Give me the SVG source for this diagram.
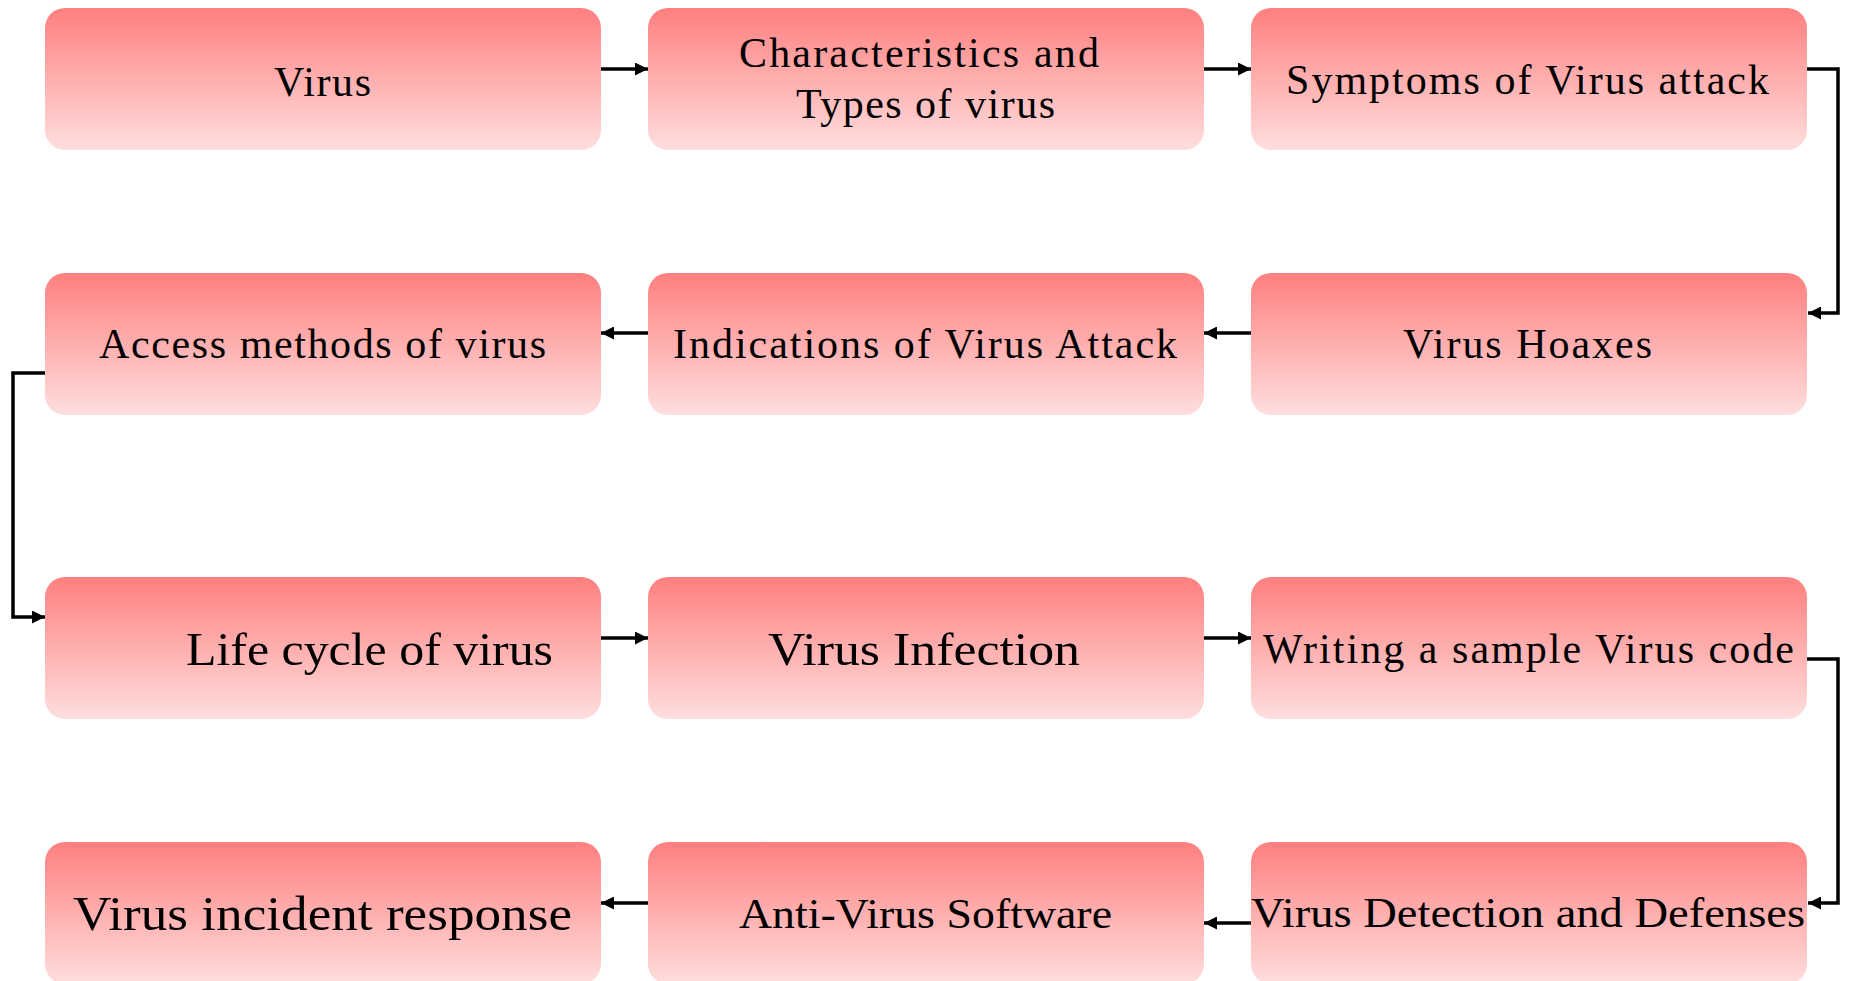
<svg xmlns="http://www.w3.org/2000/svg" width="1849" height="981" viewBox="0 0 1849 981">
<defs>
<linearGradient id="g" x1="0" y1="0" x2="0" y2="1">
<stop offset="0" stop-color="#FF7F7F"/>
<stop offset="1" stop-color="#FFDEDE"/>
</linearGradient>
<marker id="ah" viewBox="0 0 12 12" refX="12" refY="6" markerWidth="13" markerHeight="13" markerUnits="userSpaceOnUse" orient="auto">
<path d="M0,0 L12,6 L0,12 Z" fill="#000"/>
</marker>
<style>
.box{fill:url(#g);}
.t{font-family:"Liberation Serif","Times New Roman",serif;fill:#000;text-anchor:start;}
.c{fill:none;stroke:#000;stroke-width:3.5;marker-end:url(#ah);}
</style>
</defs>
<rect width="1849" height="981" fill="#fff"/>
<g id="n1"><rect class="box" x="45" y="8" width="556" height="142" rx="20"/><text class="t" x="274" y="96" font-size="42" textLength="97" lengthAdjust="spacing">Virus</text></g>
<g id="n2"><rect class="box" x="648" y="8" width="556" height="142" rx="20"/><text class="t" x="739" y="67" font-size="42" textLength="360" lengthAdjust="spacing">Characteristics and</text><text class="t" x="796" y="118" font-size="42" textLength="259" lengthAdjust="spacing">Types of virus</text></g>
<g id="n3"><rect class="box" x="1251" y="8" width="556" height="142" rx="20"/><text class="t" x="1286" y="94" font-size="42" textLength="483" lengthAdjust="spacing">Symptoms of Virus attack</text></g>
<g id="n4"><rect class="box" x="1251" y="273" width="556" height="142" rx="20"/><text class="t" x="1403" y="358" font-size="42" textLength="249" lengthAdjust="spacing">Virus Hoaxes</text></g>
<g id="n5"><rect class="box" x="648" y="273" width="556" height="142" rx="20"/><text class="t" x="673" y="358" font-size="42" textLength="504" lengthAdjust="spacing">Indications of Virus Attack</text></g>
<g id="n6"><rect class="box" x="45" y="273" width="556" height="142" rx="20"/><text class="t" x="99" y="358" font-size="42" textLength="447" lengthAdjust="spacing">Access methods of virus</text></g>
<g id="n7"><rect class="box" x="45" y="577" width="556" height="142" rx="20"/><text class="t" x="186" y="665" font-size="47" textLength="367" lengthAdjust="spacingAndGlyphs">Life cycle of virus</text></g>
<g id="n8"><rect class="box" x="648" y="577" width="556" height="142" rx="20"/><text class="t" x="768" y="665" font-size="47" textLength="312" lengthAdjust="spacingAndGlyphs">Virus Infection</text></g>
<g id="n9"><rect class="box" x="1251" y="577" width="556" height="142" rx="20"/><text class="t" x="1263" y="663" font-size="42" textLength="531" lengthAdjust="spacing">Writing a sample Virus code</text></g>
<g id="n10"><rect class="box" x="1251" y="842" width="556" height="142" rx="20"/><text class="t" x="1251" y="927" font-size="43" textLength="554" lengthAdjust="spacingAndGlyphs">Virus Detection and Defenses</text></g>
<g id="n11"><rect class="box" x="648" y="842" width="556" height="142" rx="20"/><text class="t" x="739" y="928" font-size="42" textLength="373" lengthAdjust="spacingAndGlyphs">Anti-Virus Software</text></g>
<g id="n12"><rect class="box" x="45" y="842" width="556" height="142" rx="20"/><text class="t" x="73" y="930" font-size="49" textLength="499" lengthAdjust="spacingAndGlyphs">Virus incident response</text></g>
<g id="connectors">
<path class="c" d="M601,69 H648"/>
<path class="c" d="M1204,69 H1251"/>
<path class="c" d="M1807,69 H1838 V313 H1808"/>
<path class="c" d="M1251,333 H1204"/>
<path class="c" d="M648,333 H601"/>
<path class="c" d="M45,373 H13 V617 H45"/>
<path class="c" d="M601,638 H648"/>
<path class="c" d="M1204,638 H1251"/>
<path class="c" d="M1807,659 H1838 V903 H1808"/>
<path class="c" d="M1251,923 H1204"/>
<path class="c" d="M648,903 H601"/>
</g>
</svg>
